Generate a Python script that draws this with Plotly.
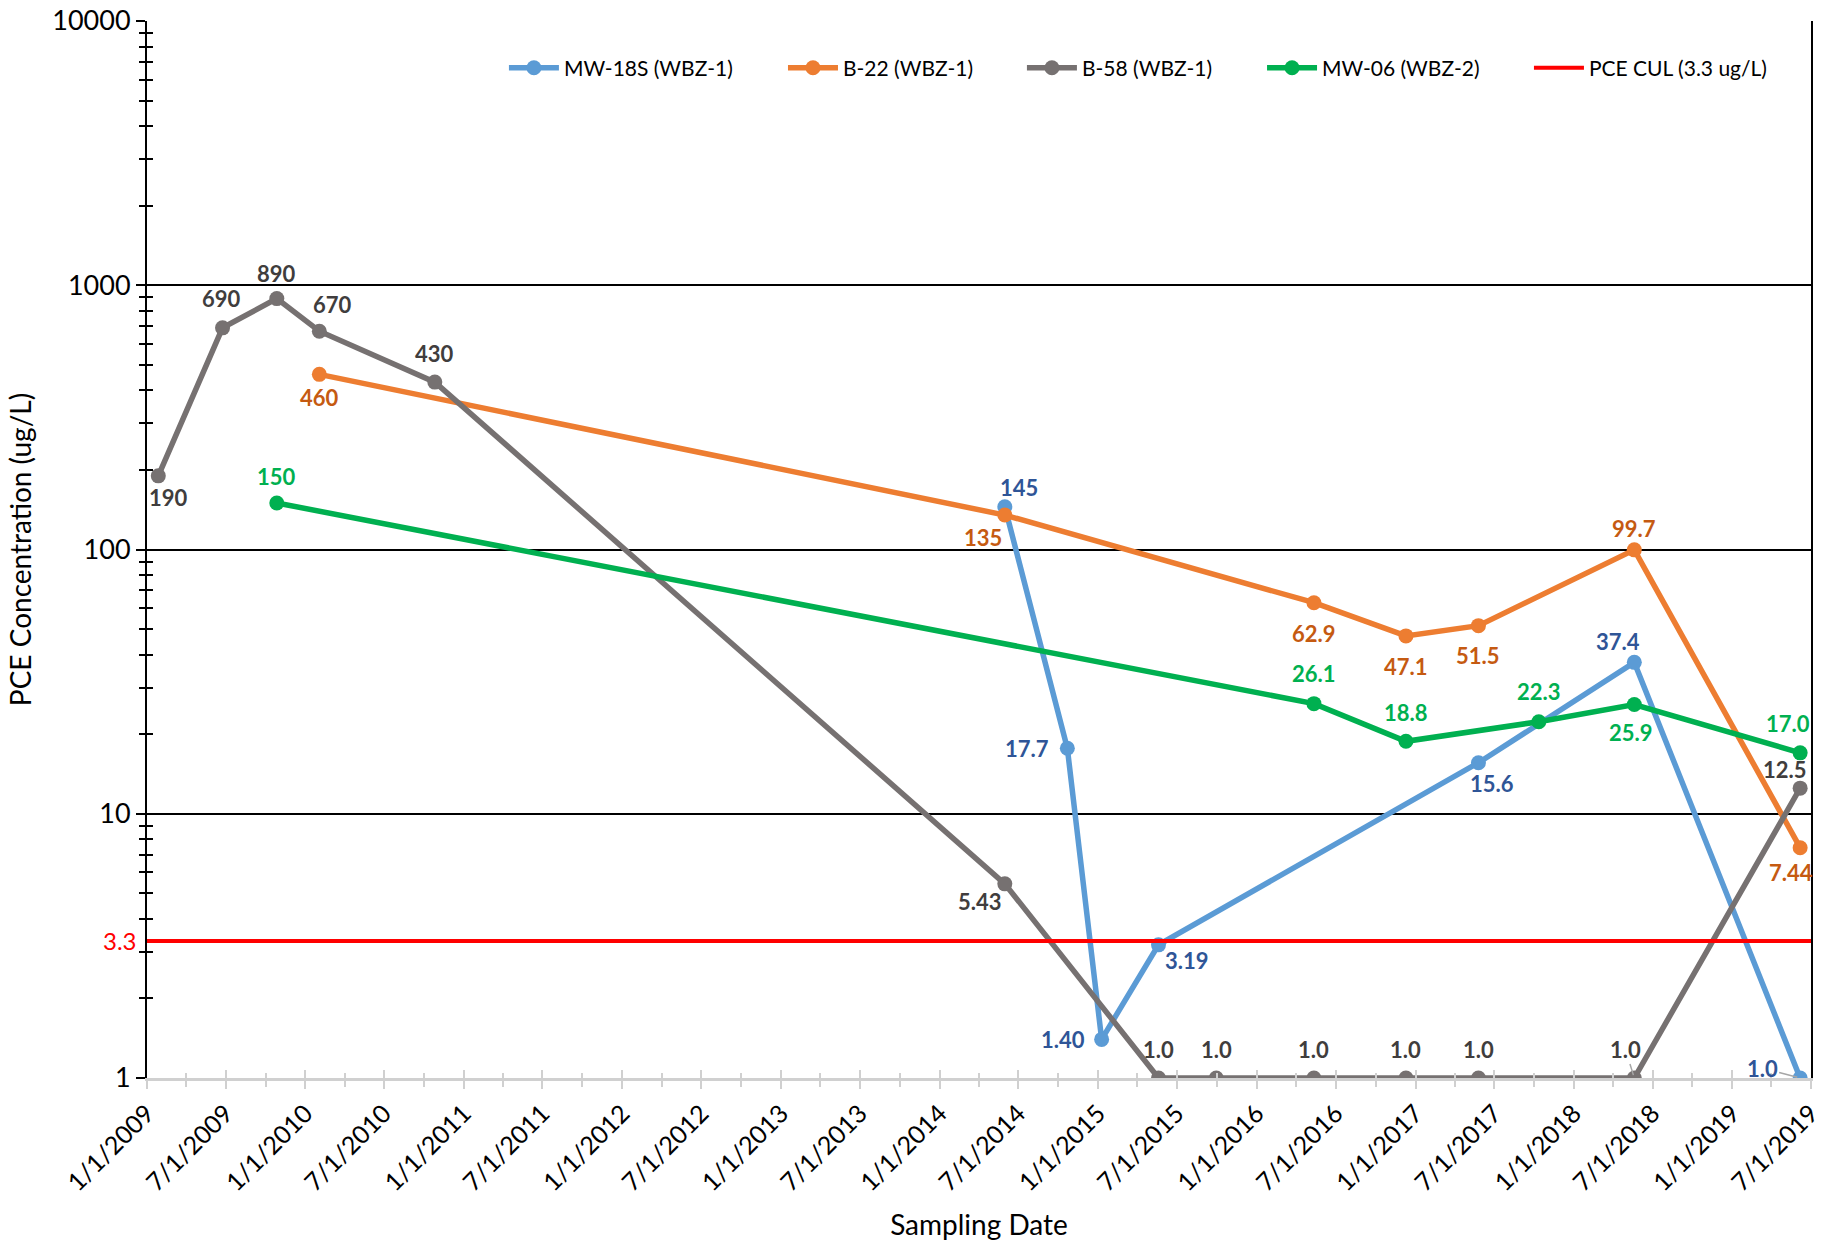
import math
import plotly.graph_objects as go

# ---------------------------------------------------------------- data
mw18s_dates = ["2014-05-31", "2014-10-22", "2015-01-09", "2015-05-20",
               "2017-05-26", "2018-05-20", "2019-06-06"]
mw18s_vals = [145, 17.7, 1.40, 3.19, 15.6, 37.4, 1.0]

b22_dates = ["2010-02-02", "2014-05-31", "2016-05-12", "2016-12-10",
             "2017-05-26", "2018-05-20", "2019-06-06"]
b22_vals = [460, 135, 62.9, 47.1, 51.5, 99.7, 7.44]

b58_dates = ["2009-01-27", "2009-06-24", "2009-10-27", "2010-02-02",
             "2010-10-26", "2014-05-31", "2015-05-20", "2015-09-30",
             "2016-05-12", "2016-12-10", "2017-05-26", "2018-05-20",
             "2019-06-06"]
b58_vals = [190, 690, 890, 670, 430, 5.43, 1.0, 1.0, 1.0, 1.0, 1.0, 1.0, 12.5]

mw06_dates = ["2009-10-27", "2016-05-12", "2016-12-10", "2017-10-12",
              "2018-05-20", "2019-06-06"]
mw06_vals = [150, 26.1, 18.8, 22.3, 25.9, 17.0]

cul_value = 3.3
cul_dates = ["2009-01-01", "2019-07-01"]

x_tick_dates = ["2009-01-01", "2009-07-01", "2010-01-01", "2010-07-01",
                "2011-01-01", "2011-07-01", "2012-01-01", "2012-07-01",
                "2013-01-01", "2013-07-01", "2014-01-01", "2014-07-01",
                "2015-01-01", "2015-07-01", "2016-01-01", "2016-07-01",
                "2017-01-01", "2017-07-01", "2018-01-01", "2018-07-01",
                "2019-01-01", "2019-07-01"]
x_tick_labels = ["1/1/2009", "7/1/2009", "1/1/2010", "7/1/2010",
                 "1/1/2011", "7/1/2011", "1/1/2012", "7/1/2012",
                 "1/1/2013", "7/1/2013", "1/1/2014", "7/1/2014",
                 "1/1/2015", "7/1/2015", "1/1/2016", "7/1/2016",
                 "1/1/2017", "7/1/2017", "1/1/2018", "7/1/2018",
                 "1/1/2019", "7/1/2019"]
y_tick_vals = [1, 10, 100, 1000, 10000]
y_tick_labels = ["1", "10", "100", "1000", "10000"]

# ---------------------------------------------------------------- style
FONT = "Lato"
BLUE, ORANGE, GRAY, GREEN, RED = "#5B9BD5", "#ED7D31", "#767171", "#00B050", "#FF0000"
AXIS_GRAY = "#D0D0D0"
LEADER_GRAY = "#A6A6A6"

# label offsets in pixels (dx, dy) with dy positive downwards
mw18s_off = [(14, -19), (-40, 0), (-39, 0), (28, 16), (14, 21), (-16, -21), (-38, -10)]
b22_off = [(0, 23), (-22, 22), (0, 31), (0, 31), (0, 30), (0, -21), (-9, 25)]
b58_off = [(10, 22), (-1, -29), (0, -25), (13, -27), (0, -29), (-25, 18),
           (0, -29), (0, -29), (0, -29), (0, -29), (0, -29), (-9, -29), (-15, -19)]
mw06_off = [(0, -26), (0, -30), (0, -29), (0, -30), (-3, 28), (-12, -29)]

# labels that sit far enough from their point to get a leader line
mw18s_lead = [False, False, False, False, False, False, True]
b22_lead = [False] * 7
b58_lead = [False] * 11 + [True, False]
mw06_lead = [False] * 6

# legend anchor (paper x) for each entry
legend_x = [0.2145, 0.3822, 0.5258, 0.6701, 0.8305]
LEGEND_Y = 0.9555


def fmt(v):
    if v == 1.0:
        return "1.0"
    return f"{v:#.3g}".rstrip(".")


series = [
    ("MW-18S (WBZ-1)", mw18s_dates, mw18s_vals, BLUE, "#2F5597", mw18s_off, mw18s_lead),
    ("B-22 (WBZ-1)", b22_dates, b22_vals, ORANGE, "#C55A11", b22_off, b22_lead),
    ("B-58 (WBZ-1)", b58_dates, b58_vals, GRAY, "#403D3D", b58_off, b58_lead),
    ("MW-06 (WBZ-2)", mw06_dates, mw06_vals, GREEN, "#00B050", mw06_off, mw06_lead),
]
legend_ids = ["legend", "legend2", "legend3", "legend4", "legend5"]

fig = go.Figure()
annotations = []
for i, (name, xs, ys, col, lab_col, offs, leads) in enumerate(series):
    fig.add_trace(go.Scatter(
        x=xs, y=ys, name=name, mode="lines+markers",
        line=dict(color=col, width=5.5),
        marker=dict(color=col, size=15),
        legend=legend_ids[i],
        hoverinfo="x+y",
    ))
    for xd, yv, (dx, dy), lead in zip(xs, ys, offs, leads):
        label_font = dict(family=FONT, size=22, color=lab_col, weight="bold")
        if lead:
            annotations.append(dict(
                x=xd, y=math.log10(yv), xref="x", yref="y", text=fmt(yv),
                showarrow=True, arrowhead=0, arrowwidth=1.5,
                arrowcolor=LEADER_GRAY, ax=dx, ay=dy, standoff=3,
                font=label_font,
            ))
        else:
            annotations.append(dict(
                x=xd, y=math.log10(yv), xref="x", yref="y", text=fmt(yv),
                showarrow=False, xshift=dx, yshift=-dy, font=label_font,
            ))

# cleanup level drawn on the twin axes so it sits above the series
fig.add_trace(go.Scatter(
    x=cul_dates, y=[cul_value, cul_value], name="PCE CUL (3.3 ug/L)",
    mode="lines", line=dict(color=RED, width=4),
    xaxis="x2", yaxis="y2", legend=legend_ids[4], hoverinfo="skip",
))

annotations.append(dict(
    x=0, y=math.log10(cul_value), xref="paper", yref="y", xanchor="right",
    text=f"{cul_value}", showarrow=False, xshift=-8,
    font=dict(family=FONT, size=24, color=RED),
))

x_range = [x_tick_dates[0], x_tick_dates[-1]]
y_range = [0, 4]

legend_style = dict(
    orientation="h", y=LEGEND_Y, xanchor="left", yanchor="middle",
    font=dict(family=FONT, size=21, color="black"),
    bgcolor="rgba(0,0,0,0)", itemwidth=50,
)
legends = {lid: dict(legend_style, x=lx) for lid, lx in zip(legend_ids, legend_x)}

minor_y = [m * 10 ** d for d in range(4) for m in range(2, 10)]

fig.update_layout(
    width=1828, height=1243,
    margin=dict(l=147, r=17, t=21, b=165, autoexpand=False),
    paper_bgcolor="white", plot_bgcolor="white",
    font=dict(family=FONT, color="black"),
    showlegend=True,
    annotations=annotations,
    xaxis=dict(
        type="date", range=x_range, automargin=False,
        tickmode="array", tickvals=x_tick_dates, ticktext=x_tick_labels,
        tickangle=-45, tickfont=dict(family=FONT, size=25, color="black"),
        ticks="outside", ticklen=8, tickwidth=2, tickcolor=AXIS_GRAY,
        minor=dict(tickmode="linear", tick0="2009-01-01", dtick="M3",
                   ticks="outside", ticklen=6, tickwidth=2, tickcolor=AXIS_GRAY,
                   showgrid=False),
        showline=True, linecolor=AXIS_GRAY, linewidth=3,
        showgrid=False, zeroline=False,
        title=dict(text="Sampling Date", font=dict(family=FONT, size=28, color="black"),
                   standoff=21),
    ),
    yaxis=dict(
        type="log", range=y_range, automargin=False,
        tickmode="array", tickvals=y_tick_vals, ticktext=y_tick_labels,
        tickfont=dict(family=FONT, size=27, color="black"),
        ticks="outside", ticklen=9, tickwidth=2, tickcolor="black",
        ticklabelstandoff=0,
        minor=dict(tickmode="array", tickvals=minor_y,
                   ticks="inside", ticklen=6, tickwidth=2, tickcolor="black",
                   showgrid=False),
        showline=True, linecolor="black", linewidth=2, mirror=True,
        showgrid=True, gridcolor="black", gridwidth=2, zeroline=False,
        title=dict(text="PCE Concentration (ug/L)",
                   font=dict(family=FONT, size=28, color="black"), standoff=12),
    ),
    xaxis2=dict(
        type="date", range=x_range, overlaying="x", anchor="y2", automargin=False,
        tickmode="array", tickvals=x_tick_dates, showticklabels=False,
        ticks="inside", ticklen=8, tickwidth=2, tickcolor=AXIS_GRAY,
        minor=dict(tickmode="linear", tick0="2009-01-01", dtick="M3",
                   ticks="inside", ticklen=5, tickwidth=2, tickcolor=AXIS_GRAY,
                   showgrid=False),
        showline=False, showgrid=False, zeroline=False,
    ),
    yaxis2=dict(
        type="log", range=y_range, overlaying="y", anchor="x2", side="left",
        automargin=False,
        tickmode="array", tickvals=y_tick_vals, showticklabels=False, ticks="",
        minor=dict(tickmode="array", tickvals=minor_y,
                   ticks="outside", ticklen=7, tickwidth=2, tickcolor="black",
                   showgrid=False),
        showline=False, showgrid=False, zeroline=False,
    ),
    **legends,
)

fig.write_html("out.html")
